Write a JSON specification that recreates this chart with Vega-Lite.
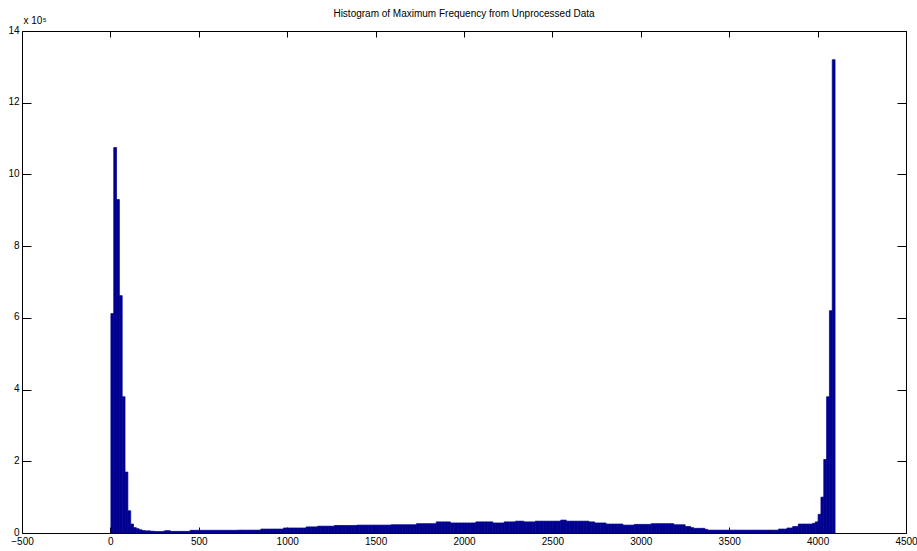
{
 "$schema": "https://vega.github.io/schema/vega-lite/v6.json",
 "width": 884, "height": 502,
 "autosize": {"type": "none"},
 "padding": {"left": 22, "top": 31, "right": 11, "bottom": 18},
 "background": "white",
 "title": {"text": "Histogram of Maximum Frequency from Unprocessed Data", "font": "Liberation Sans", "fontSize": 10, "fontWeight": "normal", "color": "black", "anchor": "middle", "frame": "group", "offset": -4},
 "config": {
  "view": {"stroke": null},
  "axis": {"labelFont": "Liberation Sans", "labelFontSize": 10, "labelColor": "black", "domainColor": "black", "tickColor": "black", "grid": false, "domainWidth": 1, "tickWidth": 1}
 },
 "data": {"values": [
  {"lo":0,"hi":16,"n":612000},{"lo":16,"hi":32,"n":1075000},{"lo":32,"hi":48,"n":930000},{"lo":48,"hi":64,"n":662000},
  {"lo":64,"hi":80,"n":380000},{"lo":80,"hi":96,"n":170000},{"lo":96,"hi":112,"n":62000},{"lo":112,"hi":128,"n":25000},
  {"lo":128,"hi":144,"n":15000},{"lo":144,"hi":160,"n":12000},{"lo":160,"hi":176,"n":9000},{"lo":176,"hi":192,"n":7000},
  {"lo":192,"hi":208,"n":6000},{"lo":208,"hi":224,"n":6000},{"lo":224,"hi":240,"n":5000},{"lo":240,"hi":256,"n":4500},
  {"lo":256,"hi":272,"n":4000},{"lo":272,"hi":288,"n":4000},{"lo":288,"hi":304,"n":4500},{"lo":304,"hi":320,"n":6500},
  {"lo":320,"hi":336,"n":6500},{"lo":336,"hi":352,"n":4500},{"lo":352,"hi":368,"n":4500},{"lo":368,"hi":384,"n":4500},
  {"lo":384,"hi":400,"n":4500},{"lo":400,"hi":416,"n":4500},{"lo":416,"hi":432,"n":4500},{"lo":432,"hi":448,"n":4500},
  {"lo":448,"hi":464,"n":7500},{"lo":464,"hi":480,"n":7500},{"lo":480,"hi":496,"n":7500},{"lo":496,"hi":512,"n":7500},
  {"lo":512,"hi":528,"n":7500},{"lo":528,"hi":544,"n":7500},{"lo":544,"hi":560,"n":7500},{"lo":560,"hi":576,"n":7500},
  {"lo":576,"hi":592,"n":7500},{"lo":592,"hi":608,"n":7500},{"lo":608,"hi":624,"n":7500},{"lo":624,"hi":640,"n":7500},
  {"lo":640,"hi":656,"n":7500},{"lo":656,"hi":672,"n":7500},{"lo":672,"hi":688,"n":7500},{"lo":688,"hi":704,"n":7500},
  {"lo":704,"hi":720,"n":7500},{"lo":720,"hi":736,"n":8000},{"lo":736,"hi":752,"n":8000},{"lo":752,"hi":768,"n":8000},
  {"lo":768,"hi":784,"n":8000},{"lo":784,"hi":800,"n":8000},{"lo":800,"hi":816,"n":8000},{"lo":816,"hi":832,"n":8000},
  {"lo":832,"hi":848,"n":8000},{"lo":848,"hi":864,"n":11000},{"lo":864,"hi":880,"n":11000},{"lo":880,"hi":896,"n":11000},
  {"lo":896,"hi":912,"n":11000},{"lo":912,"hi":928,"n":11000},{"lo":928,"hi":944,"n":11000},{"lo":944,"hi":960,"n":11000},
  {"lo":960,"hi":976,"n":11000},{"lo":976,"hi":992,"n":14000},{"lo":992,"hi":1008,"n":14000},{"lo":1008,"hi":1024,"n":14000},
  {"lo":1024,"hi":1040,"n":14000},{"lo":1040,"hi":1056,"n":14000},{"lo":1056,"hi":1072,"n":14000},{"lo":1072,"hi":1088,"n":14000},
  {"lo":1088,"hi":1104,"n":14000},{"lo":1104,"hi":1120,"n":17000},{"lo":1120,"hi":1136,"n":17000},{"lo":1136,"hi":1152,"n":17000},
  {"lo":1152,"hi":1168,"n":17000},{"lo":1168,"hi":1184,"n":19000},{"lo":1184,"hi":1200,"n":19000},{"lo":1200,"hi":1216,"n":19000},
  {"lo":1216,"hi":1232,"n":19000},{"lo":1232,"hi":1248,"n":19000},{"lo":1248,"hi":1264,"n":19000},{"lo":1264,"hi":1280,"n":21000},
  {"lo":1280,"hi":1296,"n":21000},{"lo":1296,"hi":1312,"n":21000},{"lo":1312,"hi":1328,"n":21000},{"lo":1328,"hi":1344,"n":21000},
  {"lo":1344,"hi":1360,"n":21000},{"lo":1360,"hi":1376,"n":21000},{"lo":1376,"hi":1392,"n":21000},{"lo":1392,"hi":1408,"n":22000},
  {"lo":1408,"hi":1424,"n":22000},{"lo":1424,"hi":1440,"n":22000},{"lo":1440,"hi":1456,"n":22000},{"lo":1456,"hi":1472,"n":22000},
  {"lo":1472,"hi":1488,"n":22000},{"lo":1488,"hi":1504,"n":22000},{"lo":1504,"hi":1520,"n":22000},{"lo":1520,"hi":1536,"n":22000},
  {"lo":1536,"hi":1552,"n":22000},{"lo":1552,"hi":1568,"n":22000},{"lo":1568,"hi":1584,"n":22000},{"lo":1584,"hi":1600,"n":23000},
  {"lo":1600,"hi":1616,"n":23000},{"lo":1616,"hi":1632,"n":23000},{"lo":1632,"hi":1648,"n":23000},{"lo":1648,"hi":1664,"n":23000},
  {"lo":1664,"hi":1680,"n":23000},{"lo":1680,"hi":1696,"n":23000},{"lo":1696,"hi":1712,"n":23000},{"lo":1712,"hi":1728,"n":23000},
  {"lo":1728,"hi":1744,"n":26000},{"lo":1744,"hi":1760,"n":26000},{"lo":1760,"hi":1776,"n":26000},{"lo":1776,"hi":1792,"n":26000},
  {"lo":1792,"hi":1808,"n":26000},{"lo":1808,"hi":1824,"n":26000},{"lo":1824,"hi":1840,"n":26000},{"lo":1840,"hi":1856,"n":31000},
  {"lo":1856,"hi":1872,"n":31000},{"lo":1872,"hi":1888,"n":31000},{"lo":1888,"hi":1904,"n":31000},{"lo":1904,"hi":1920,"n":31000},
  {"lo":1920,"hi":1936,"n":28000},{"lo":1936,"hi":1952,"n":28000},{"lo":1952,"hi":1968,"n":28000},{"lo":1968,"hi":1984,"n":28000},
  {"lo":1984,"hi":2000,"n":28000},{"lo":2000,"hi":2016,"n":28000},{"lo":2016,"hi":2032,"n":28000},{"lo":2032,"hi":2048,"n":28000},
  {"lo":2048,"hi":2064,"n":28000},{"lo":2064,"hi":2080,"n":31000},{"lo":2080,"hi":2096,"n":31000},{"lo":2096,"hi":2112,"n":31000},
  {"lo":2112,"hi":2128,"n":31000},{"lo":2128,"hi":2144,"n":31000},{"lo":2144,"hi":2160,"n":31000},{"lo":2160,"hi":2176,"n":28000},
  {"lo":2176,"hi":2192,"n":28000},{"lo":2192,"hi":2208,"n":28000},{"lo":2208,"hi":2224,"n":28000},{"lo":2224,"hi":2240,"n":31000},
  {"lo":2240,"hi":2256,"n":31000},{"lo":2256,"hi":2272,"n":31000},{"lo":2272,"hi":2288,"n":31000},{"lo":2288,"hi":2304,"n":33000},
  {"lo":2304,"hi":2320,"n":33000},{"lo":2320,"hi":2336,"n":33000},{"lo":2336,"hi":2352,"n":31000},{"lo":2352,"hi":2368,"n":31000},
  {"lo":2368,"hi":2384,"n":31000},{"lo":2384,"hi":2400,"n":31000},{"lo":2400,"hi":2416,"n":33000},{"lo":2416,"hi":2432,"n":33000},
  {"lo":2432,"hi":2448,"n":33000},{"lo":2448,"hi":2464,"n":33000},{"lo":2464,"hi":2480,"n":33000},{"lo":2480,"hi":2496,"n":33000},
  {"lo":2496,"hi":2512,"n":33000},{"lo":2512,"hi":2528,"n":33000},{"lo":2528,"hi":2544,"n":33000},{"lo":2544,"hi":2560,"n":36000},
  {"lo":2560,"hi":2576,"n":36000},{"lo":2576,"hi":2592,"n":33000},{"lo":2592,"hi":2608,"n":33000},{"lo":2608,"hi":2624,"n":33000},
  {"lo":2624,"hi":2640,"n":33000},{"lo":2640,"hi":2656,"n":33000},{"lo":2656,"hi":2672,"n":33000},{"lo":2672,"hi":2688,"n":33000},
  {"lo":2688,"hi":2704,"n":33000},{"lo":2704,"hi":2720,"n":31000},{"lo":2720,"hi":2736,"n":31000},{"lo":2736,"hi":2752,"n":28000},
  {"lo":2752,"hi":2768,"n":28000},{"lo":2768,"hi":2784,"n":28000},{"lo":2784,"hi":2800,"n":28000},{"lo":2800,"hi":2816,"n":25000},
  {"lo":2816,"hi":2832,"n":25000},{"lo":2832,"hi":2848,"n":25000},{"lo":2848,"hi":2864,"n":25000},{"lo":2864,"hi":2880,"n":25000},
  {"lo":2880,"hi":2896,"n":25000},{"lo":2896,"hi":2912,"n":22000},{"lo":2912,"hi":2928,"n":22000},{"lo":2928,"hi":2944,"n":22000},
  {"lo":2944,"hi":2960,"n":22000},{"lo":2960,"hi":2976,"n":24000},{"lo":2976,"hi":2992,"n":24000},{"lo":2992,"hi":3008,"n":24000},
  {"lo":3008,"hi":3024,"n":24000},{"lo":3024,"hi":3040,"n":24000},{"lo":3040,"hi":3056,"n":24000},{"lo":3056,"hi":3072,"n":26000},
  {"lo":3072,"hi":3088,"n":26000},{"lo":3088,"hi":3104,"n":26000},{"lo":3104,"hi":3120,"n":26000},{"lo":3120,"hi":3136,"n":26000},
  {"lo":3136,"hi":3152,"n":26000},{"lo":3152,"hi":3168,"n":26000},{"lo":3168,"hi":3184,"n":26000},{"lo":3184,"hi":3200,"n":23000},
  {"lo":3200,"hi":3216,"n":23000},{"lo":3216,"hi":3232,"n":23000},{"lo":3232,"hi":3248,"n":23000},{"lo":3248,"hi":3264,"n":18000},
  {"lo":3264,"hi":3280,"n":18000},{"lo":3280,"hi":3296,"n":15000},{"lo":3296,"hi":3312,"n":13000},{"lo":3312,"hi":3328,"n":13000},
  {"lo":3328,"hi":3344,"n":13000},{"lo":3344,"hi":3360,"n":13000},{"lo":3360,"hi":3376,"n":10000},{"lo":3376,"hi":3392,"n":8000},
  {"lo":3392,"hi":3408,"n":8000},{"lo":3408,"hi":3424,"n":8000},{"lo":3424,"hi":3440,"n":8000},{"lo":3440,"hi":3456,"n":8000},
  {"lo":3456,"hi":3472,"n":8000},{"lo":3472,"hi":3488,"n":8000},{"lo":3488,"hi":3504,"n":8000},{"lo":3504,"hi":3520,"n":8000},
  {"lo":3520,"hi":3536,"n":8000},{"lo":3536,"hi":3552,"n":8000},{"lo":3552,"hi":3568,"n":8000},{"lo":3568,"hi":3584,"n":8000},
  {"lo":3584,"hi":3600,"n":8000},{"lo":3600,"hi":3616,"n":8000},{"lo":3616,"hi":3632,"n":8000},{"lo":3632,"hi":3648,"n":8000},
  {"lo":3648,"hi":3664,"n":8000},{"lo":3664,"hi":3680,"n":8000},{"lo":3680,"hi":3696,"n":8000},{"lo":3696,"hi":3712,"n":8000},
  {"lo":3712,"hi":3728,"n":8000},{"lo":3728,"hi":3744,"n":8000},{"lo":3744,"hi":3760,"n":8000},{"lo":3760,"hi":3776,"n":8000},
  {"lo":3776,"hi":3792,"n":11000},{"lo":3792,"hi":3808,"n":11000},{"lo":3808,"hi":3824,"n":11000},{"lo":3824,"hi":3840,"n":14000},
  {"lo":3840,"hi":3856,"n":14000},{"lo":3856,"hi":3872,"n":18000},{"lo":3872,"hi":3888,"n":18000},{"lo":3888,"hi":3904,"n":25000},
  {"lo":3904,"hi":3920,"n":25000},{"lo":3920,"hi":3936,"n":25000},{"lo":3936,"hi":3952,"n":25000},{"lo":3952,"hi":3968,"n":25000},
  {"lo":3968,"hi":3984,"n":27000},{"lo":3984,"hi":4000,"n":31000},{"lo":4000,"hi":4016,"n":52000},{"lo":4016,"hi":4032,"n":100000},
  {"lo":4032,"hi":4048,"n":205000},{"lo":4048,"hi":4064,"n":380000},{"lo":4064,"hi":4080,"n":620000},{"lo":4080,"hi":4096,"n":1320000}
 ]},
 "layer": [
  {
   "mark": {"type": "bar", "color": "#000090", "stroke": "#000090", "strokeWidth": 0.7, "binSpacing": 0},
   "encoding": {
    "x": {"field": "lo", "type": "quantitative", "bin": {"binned": true},
          "scale": {"domain": [-500, 4500], "nice": false, "zero": false},
          "axis": {"orient": "bottom", "values": [-500,0,500,1000,1500,2000,2500,3000,3500,4000,4500], "format": "d", "tickSize": -6, "labelPadding": 9, "labelFlush": false, "labelOverlap": false, "title": null}},
    "x2": {"field": "hi"},
    "y": {"field": "n", "type": "quantitative",
          "scale": {"domain": [0, 1400000], "nice": false},
          "axis": {"orient": "left", "values": [0,200000,400000,600000,800000,1000000,1200000,1400000], "labelExpr": "format(datum.value/100000,'d')", "tickSize": -9, "labelPadding": 12, "labelOffset": -1, "labelFlush": false, "labelOverlap": false,
                   "title": "x 10⁵", "titleAngle": 0, "titleAlign": "left", "titleBaseline": "alphabetic", "titleX": 1, "titleY": -8, "titleFont": "Liberation Sans", "titleFontSize": 10, "titleFontWeight": "normal", "titleColor": "black"}}
   }
  },
  {
   "mark": {"type": "bar", "opacity": 0, "binSpacing": 0},
   "encoding": {
    "x": {"field": "lo", "type": "quantitative", "bin": {"binned": true},
          "scale": {"domain": [-500, 4500], "nice": false, "zero": false},
          "axis": {"orient": "top", "values": [-500,0,500,1000,1500,2000,2500,3000,3500,4000,4500], "labels": false, "tickSize": -6, "title": null}},
    "x2": {"field": "hi"},
    "y": {"field": "n", "type": "quantitative",
          "scale": {"domain": [0, 1400000], "nice": false},
          "axis": {"orient": "right", "values": [0,200000,400000,600000,800000,1000000,1200000,1400000], "labels": false, "tickSize": -9, "title": null}}
   }
  }
 ],
 "resolve": {"axis": {"x": "independent", "y": "independent"}}
}
